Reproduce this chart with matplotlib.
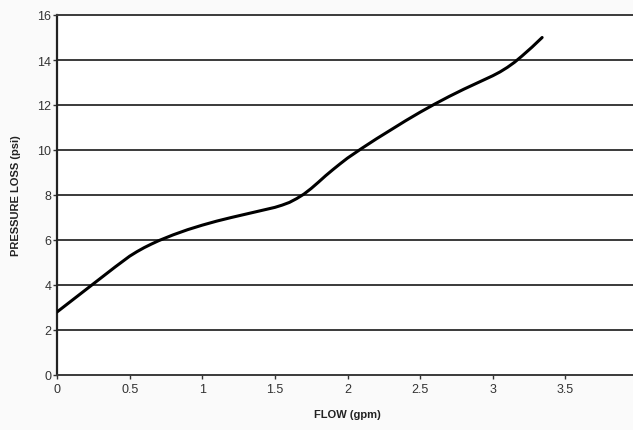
import matplotlib.pyplot as plt
import numpy as np

plt.rcParams['font.family'] = ['Liberation Sans', 'DejaVu Sans']

# values
flow = [0, 0.1, 0.2, 0.3, 0.4, 0.5, 0.55, 0.6, 0.65, 0.7, 0.75, 0.8, 0.9,
        1.0, 1.1, 1.2, 1.3, 1.4, 1.5, 1.55, 1.6, 1.65, 1.7, 1.75, 1.8, 1.85,
        1.9, 1.95, 2.0, 2.1, 2.2, 2.3, 2.4, 2.5, 2.6, 2.7, 2.8, 2.9, 3.0,
        3.05, 3.1, 3.15, 3.2, 3.27, 3.34]
loss = [2.8, 3.3, 3.8, 4.3, 4.8, 5.28, 5.48, 5.66, 5.82, 5.97, 6.1, 6.23, 6.46,
        6.66, 6.84, 7.0, 7.15, 7.3, 7.45, 7.55, 7.67, 7.84, 8.04, 8.29, 8.57, 8.86,
        9.13, 9.39, 9.64, 10.08, 10.5, 10.9, 11.3, 11.68, 12.04, 12.38, 12.7, 13.0, 13.3,
        13.47, 13.67, 13.9, 14.17, 14.57, 15.0]

xticks = [0, 0.5, 1, 1.5, 2, 2.5, 3, 3.5, 4]
xtick_labels = ['0', '0.5', '1', '1.5', '2', '2.5', '3', '3.5', '4']
yticks = [0, 2, 4, 6, 8, 10, 12, 14, 16]

fig = plt.figure(figsize=(6.33, 4.31), dpi=100, facecolor='#fafafa')
ax = fig.add_axes([57/633, 1 - 376/431, (638 - 57)/633, 360/431])
ax.set_facecolor('white')

for y in yticks[1:-1]:
    ax.axhline(y, color='#3a3a3a', lw=1.4, zorder=1)

ax.plot(flow, loss, color='black', lw=2.2, zorder=3,
        solid_joinstyle='round', solid_capstyle='round')

ax.set_xlim(0, 4)
ax.set_ylim(0, 16)
ax.set_xticks(xticks)
ax.set_xticklabels(xtick_labels)
ax.set_yticks(yticks)

for side in ['top', 'bottom']:
    ax.spines[side].set_color('#3a3a3a')
    ax.spines[side].set_linewidth(1.4)
ax.spines['left'].set_color('#222222')
ax.spines['left'].set_linewidth(1.6)
ax.spines['right'].set_visible(False)

ax.tick_params(axis='both', colors='#333333', labelsize=9, length=3, width=1)
ax.tick_params(axis='x', pad=3)
ax.tick_params(axis='y', pad=1)

ax.set_xlabel('FLOW (gpm)', fontsize=8, fontweight='bold', color='#222222', labelpad=10)
ax.set_ylabel('PRESSURE LOSS (psi)', fontsize=8, fontweight='bold', color='#222222', labelpad=12)

fig.savefig('out.png', dpi=100, facecolor=fig.get_facecolor())
